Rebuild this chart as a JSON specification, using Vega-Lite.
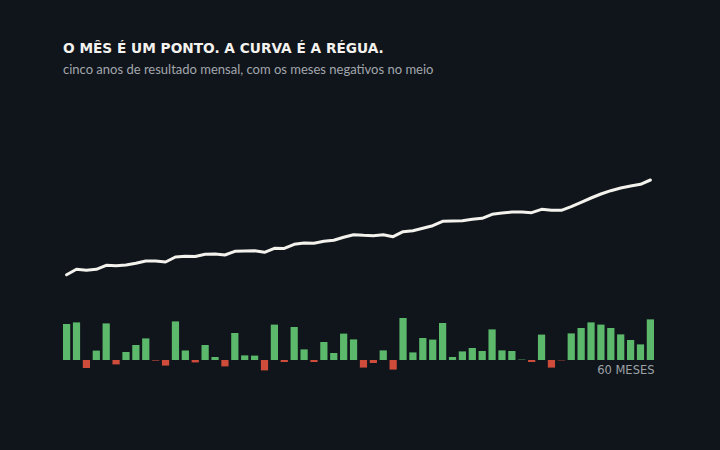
{
  "$schema": "https://vega.github.io/schema/vega-lite/v6.json",
  "width": 591,
  "height": 290,
  "autosize": {"type": "none"},
  "padding": {"left": 63, "top": 90, "right": 66, "bottom": 70},
  "background": "#10151c",
  "title": {
    "text": "O MÊS É UM PONTO. A CURVA É A RÉGUA.",
    "subtitle": "cinco anos de resultado mensal, com os meses negativos no meio",
    "anchor": "start",
    "frame": "group",
    "offset": 13,
    "font": "DejaVu Sans",
    "fontSize": 13.7,
    "fontWeight": 700,
    "color": "#f4f2ee",
    "subtitleFont": "Lato",
    "subtitleFontSize": 13,
    "subtitleFontWeight": 400,
    "subtitleColor": "#a3a7ac",
    "subtitlePadding": 8
  },
  "config": {"view": {"stroke": null}},
  "data": {"values": [
    {"mes": 1, "resultado": 18.0, "acumulado": 70.4},
    {"mes": 2, "resultado": 18.8, "acumulado": 95.2},
    {"mes": 3, "resultado": -4.0, "acumulado": 90.6},
    {"mes": 4, "resultado": 4.7, "acumulado": 95.2},
    {"mes": 5, "resultado": 18.3, "acumulado": 113.6},
    {"mes": 6, "resultado": -2.2, "acumulado": 111.8},
    {"mes": 7, "resultado": 4.0, "acumulado": 115.0},
    {"mes": 8, "resultado": 7.5, "acumulado": 122.8},
    {"mes": 9, "resultado": 10.8, "acumulado": 133.4},
    {"mes": 10, "resultado": -0.3, "acumulado": 133.0},
    {"mes": 11, "resultado": -2.8, "acumulado": 128.8},
    {"mes": 12, "resultado": 19.3, "acumulado": 151.8},
    {"mes": 13, "resultado": 4.7, "acumulado": 155.0},
    {"mes": 14, "resultado": -1.2, "acumulado": 154.4},
    {"mes": 15, "resultado": 7.5, "acumulado": 164.2},
    {"mes": 16, "resultado": 1.5, "acumulado": 165.6},
    {"mes": 17, "resultado": -3.2, "acumulado": 161.0},
    {"mes": 18, "resultado": 13.5, "acumulado": 178.0},
    {"mes": 19, "resultado": 2.3, "acumulado": 179.4},
    {"mes": 20, "resultado": 2.2, "acumulado": 180.3},
    {"mes": 21, "resultado": -5.2, "acumulado": 173.4},
    {"mes": 22, "resultado": 17.7, "acumulado": 191.8},
    {"mes": 23, "resultado": -1.0, "acumulado": 191.0},
    {"mes": 24, "resultado": 16.5, "acumulado": 210.2},
    {"mes": 25, "resultado": 5.3, "acumulado": 216.2},
    {"mes": 26, "resultado": -1.0, "acumulado": 215.5},
    {"mes": 27, "resultado": 9.0, "acumulado": 224.0},
    {"mes": 28, "resultado": 3.5, "acumulado": 228.6},
    {"mes": 29, "resultado": 13.2, "acumulado": 242.4},
    {"mes": 30, "resultado": 10.3, "acumulado": 254.4},
    {"mes": 31, "resultado": -3.8, "acumulado": 251.6},
    {"mes": 32, "resultado": -1.5, "acumulado": 250.0},
    {"mes": 33, "resultado": 4.8, "acumulado": 254.4},
    {"mes": 34, "resultado": -4.8, "acumulado": 245.2},
    {"mes": 35, "resultado": 21.0, "acumulado": 268.2},
    {"mes": 36, "resultado": 3.8, "acumulado": 272.8},
    {"mes": 37, "resultado": 11.0, "acumulado": 283.8},
    {"mes": 38, "resultado": 10.2, "acumulado": 295.8},
    {"mes": 39, "resultado": 18.5, "acumulado": 316.0},
    {"mes": 40, "resultado": 1.5, "acumulado": 317.4},
    {"mes": 41, "resultado": 4.3, "acumulado": 318.8},
    {"mes": 42, "resultado": 6.0, "acumulado": 325.2},
    {"mes": 43, "resultado": 4.5, "acumulado": 329.8},
    {"mes": 44, "resultado": 15.3, "acumulado": 348.2},
    {"mes": 45, "resultado": 4.8, "acumulado": 354.2},
    {"mes": 46, "resultado": 4.5, "acumulado": 358.8},
    {"mes": 47, "resultado": 0.2, "acumulado": 358.8},
    {"mes": 48, "resultado": -1.0, "acumulado": 355.6},
    {"mes": 49, "resultado": 12.7, "acumulado": 371.2},
    {"mes": 50, "resultado": -3.8, "acumulado": 366.6},
    {"mes": 51, "resultado": -0.2, "acumulado": 366.6},
    {"mes": 52, "resultado": 13.3, "acumulado": 383.2},
    {"mes": 53, "resultado": 16.0, "acumulado": 403.4},
    {"mes": 54, "resultado": 18.8, "acumulado": 423.2},
    {"mes": 55, "resultado": 17.7, "acumulado": 441.6},
    {"mes": 56, "resultado": 16.0, "acumulado": 456.8},
    {"mes": 57, "resultado": 12.8, "acumulado": 469.2},
    {"mes": 58, "resultado": 10.0, "acumulado": 478.4},
    {"mes": 59, "resultado": 7.8, "acumulado": 486.2},
    {"mes": 60, "resultado": 20.3, "acumulado": 506.0}
  ]},
  "encoding": {
    "x": {
      "field": "mes",
      "type": "ordinal",
      "scale": {"paddingInner": 0.27, "paddingOuter": 0},
      "axis": {
        "title": "60 MESES",
        "labels": false,
        "ticks": false,
        "domain": false,
        "grid": false,
        "titleAnchor": "end",
        "titleAlign": "right",
        "titleBaseline": "alphabetic",
        "titleY": -7,
        "titleFont": "DejaVu Sans",
        "titleFontSize": 11.5,
        "titleFontWeight": 400,
        "titleColor": "#9da1a6"
      }
    }
  },
  "layer": [
    {
      "mark": {"type": "bar"},
      "encoding": {
        "y": {
          "field": "resultado",
          "type": "quantitative",
          "scale": {"domain": [-10, 135], "nice": false, "zero": false},
          "axis": null
        },
        "y2": {"datum": 0},
        "color": {
          "condition": {"test": "datum.resultado < 0", "value": "#cf4c3b"},
          "value": "#5cb96b"
        }
      }
    },
    {
      "mark": {"type": "line", "color": "#f4f2ec", "strokeWidth": 3, "strokeCap": "round", "strokeJoin": "round"},
      "encoding": {
        "y": {
          "field": "acumulado",
          "type": "quantitative",
          "scale": {"domain": [-414, 920], "nice": false, "zero": false},
          "axis": null
        }
      }
    }
  ],
  "resolve": {"scale": {"y": "independent"}}
}
